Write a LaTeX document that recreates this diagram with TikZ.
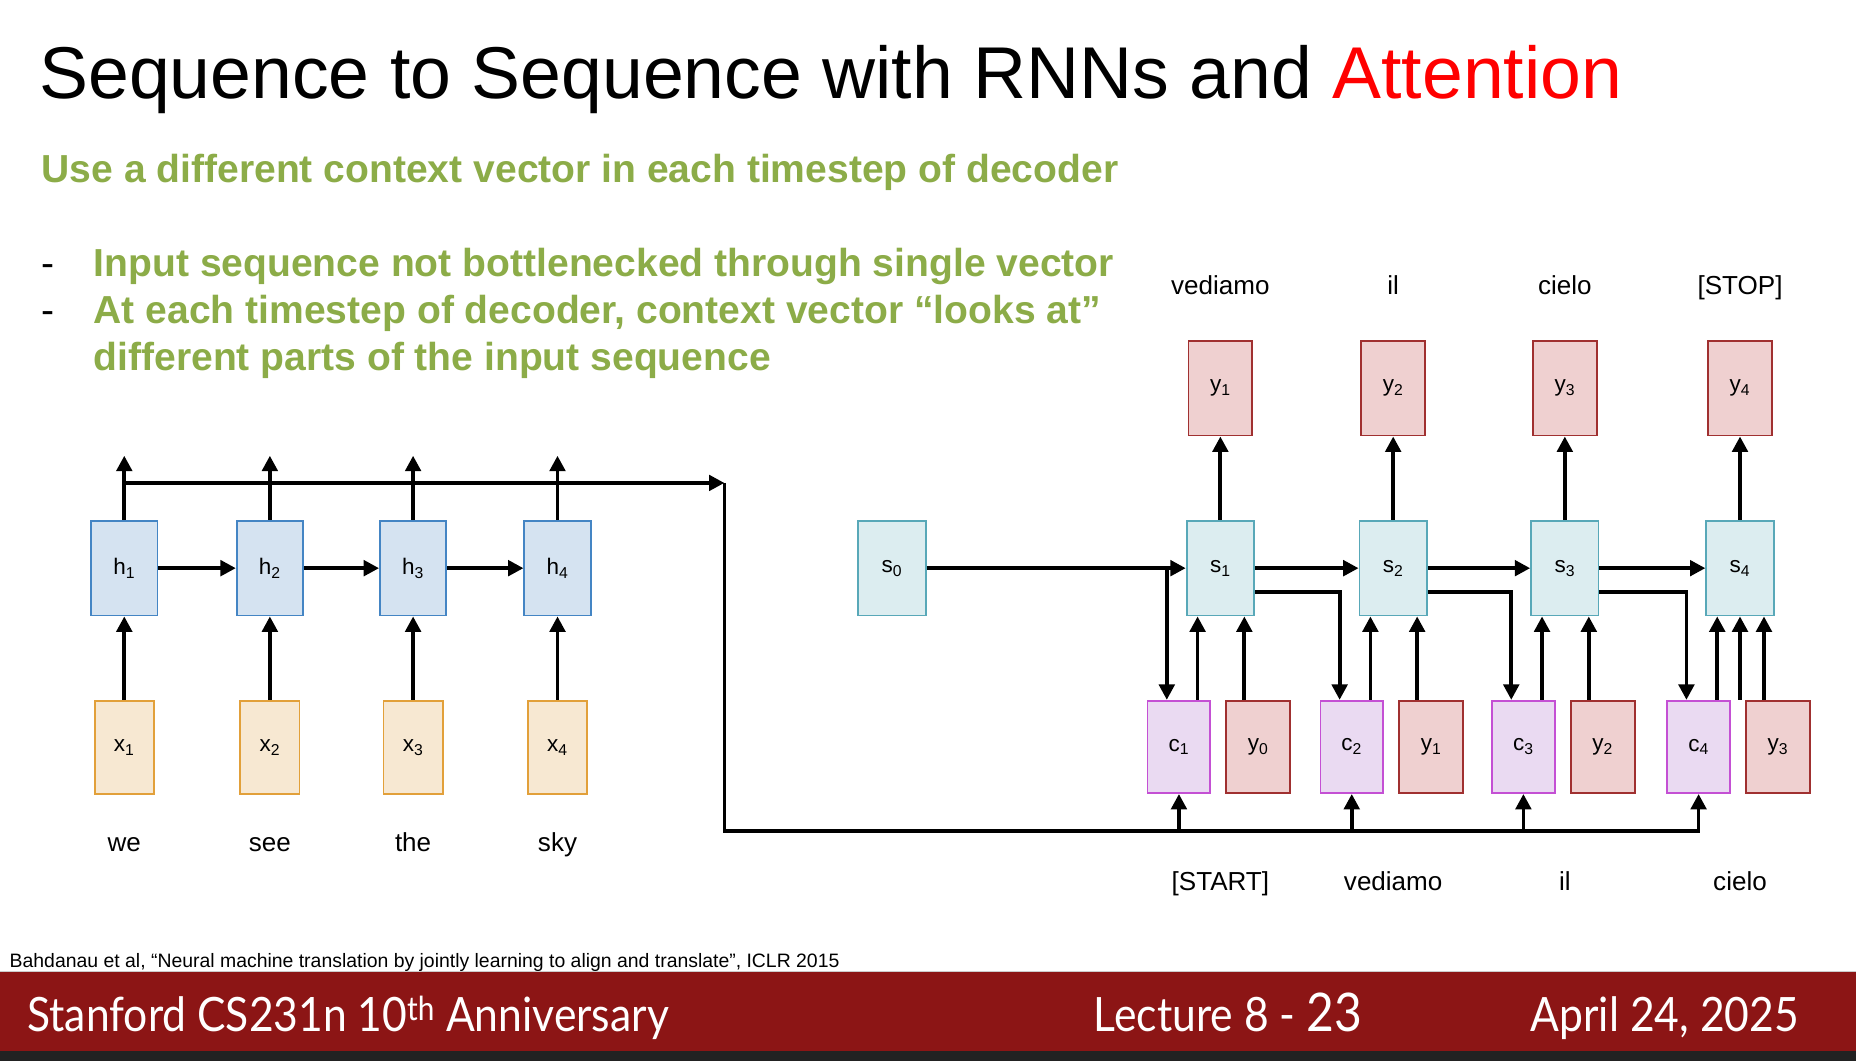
\documentclass[tikz,border=0pt]{standalone}
\usepackage{fontspec}
\setmainfont{Liberation Sans}
\newfontfamily\footfont[FakeStretch = 0.9]{Lato}
\usetikzlibrary{arrows.meta}
\definecolor{hfill}{RGB}{213,227,241}
\definecolor{hline}{RGB}{68,133,196}
\definecolor{xfill}{RGB}{247,232,210}
\definecolor{xline}{RGB}{226,160,58}
\definecolor{sfill}{RGB}{220,237,240}
\definecolor{sline}{RGB}{88,168,184}
\definecolor{yfill}{RGB}{239,208,208}
\definecolor{yline}{RGB}{160,48,48}
\definecolor{cfill}{RGB}{234,218,242}
\definecolor{cline}{RGB}{196,80,212}
\definecolor{olive}{RGB}{140,172,72}
\definecolor{cardinal}{RGB}{140,21,21}
\definecolor{darkbar}{RGB}{34,34,34}
\tikzset{box/.style = {draw, line width = 1.5pt, inner sep = 0,
                       font = \fontsize{19}{22}\selectfont}}
\tikzset{hbox/.style = {box, fill = hfill, draw = hline, minimum width = 56, minimum height = 80}}
\tikzset{xbox/.style = {box, fill = xfill, draw = xline, minimum width = 50, minimum height = 79}}
\tikzset{sbox/.style = {box, fill = sfill, draw = sline, minimum width = 57, minimum height = 80}}
\tikzset{ybox/.style = {box, fill = yfill, draw = yline, minimum width = 54, minimum height = 80}}
\tikzset{cbox/.style = {box, fill = cfill, draw = cline, minimum width = 53, minimum height = 78}}
\tikzset{yibox/.style = {box, fill = yfill, draw = yline, minimum width = 54, minimum height = 78}}
\tikzset{word/.style = {anchor = base, inner sep = 0, font = \fontsize{22}{26}\selectfont}}
\tikzset{point/.style = {anchor = base west, inner sep = 0, text = olive,
                         font = \bfseries\fontsize{33}{39}\selectfont}}
\tikzset{foot/.style = {anchor = base west, inner sep = 0, text = white,
                        font = \footfont\fontsize{40}{44}\selectfont}}
\tikzset{arr/.style = {line width = 3.2pt, -{Triangle[length = 13pt, width = 13pt]}}}

\begin{document}
\begin{tikzpicture}[x = 1pt, y = -1pt]
    \useasboundingbox (0, 0) rectangle (1568, 896);

    % footer band
    \fill [cardinal] (0, 821) rectangle (1568, 888);
    \fill [darkbar] (0, 888) rectangle (1568, 896);
    \draw [gray!40, line width = 1pt] (0, 821) -- (1568, 821);

    \node (title) at (33, 83) [anchor = base west, inner sep = 0, font = \fontsize{62}{70}\selectfont]
        {Sequence to Sequence with RNNs and \textcolor{red}{Attention}};
    \node (sub) at (35, 154.3) [point] {Use a different context vector in each timestep of decoder};
    \node (dash1) at (35, 233.7) [point, text = black, font = \fontsize{33}{39}\selectfont] {-};
    \node (pt1) at (79, 233.7) [point] {Input sequence not bottlenecked through single vector};
    \node (dash2) at (35, 273) [point, text = black, font = \fontsize{33}{39}\selectfont] {-};
    \node (pt2) at (79, 273) [point] {At each timestep of decoder, context vector “looks at”};
    \node (pt3) at (79, 312.6) [point] {different parts of the input sequence};

    \node (ref) at (8, 817) [anchor = base west, inner sep = 0, font = \fontsize{16.4}{18}\selectfont]
        {Bahdanau et al, “Neural machine translation by jointly learning to align and translate”, ICLR 2015};
    \node (course) at (23, 871.5) [foot] {Stanford CS231n 10\textsuperscript{th} Anniversary};
    \node (lecture) at (924, 871.5) [foot] {Lecture 8 - {\fontsize{45}{50}\selectfont 23}};
    \node (date) at (1293, 871.5) [foot] {April 24, 2025};

    % encoder
    \foreach \i/\x/\w in {1/105/we, 2/228/see, 3/349/the, 4/471/sky} {
        \node (h\i) at (\x, 480) [hbox] {h\textsubscript{\i}};
        \node (x\i) at (\x, 631.5) [xbox] {x\textsubscript{\i}};
        \node (word\i) at (\x, 719.5) [word] {\w};
        \coordinate (hout\i) at (\x, 385);
        \draw [arr] (x\i) -- (h\i);
        \draw [arr] (h\i.north) -- (hout\i);
    }
    \draw [arr] (h1) -- (h2);
    \draw [arr] (h2) -- (h3);
    \draw [arr] (h3) -- (h4);

    % decoder
    \node (s0) at (753.5, 480) [sbox] {s\textsubscript{0}};
    \foreach \i/\x/\j/\wa/\wb in {1/1031/0/vediamo/[START], 2/1177/1/il/vediamo,
                                  3/1322/2/cielo/il, 4/1470/3/[STOP]/cielo} {
        \node (s\i) at (\x, 480) [sbox] {s\textsubscript{\i}};
        \node (yo\i) at (\x, 328) [ybox] {y\textsubscript{\i}};
        \node (c\i) at (\x - 35, 631) [cbox] {c\textsubscript{\i}};
        \node (yi\j) at (\x + 32, 631) [yibox] {y\textsubscript{\j}};
        \node (wo\i) at (\x, 249) [word] {\wa};
        \node (wi\i) at (\x, 752.5) [word] {\wb};
        \coordinate (cin\i) at ([xshift = 17pt]c\i.north west);
        \coordinate (cup\i) at ([xshift = 10pt]s\i.south west);
        \coordinate (yup\i) at ([xshift = -9pt]s\i.south east);
        \draw [arr] (s\i) -- (yo\i);
        \draw [arr] (cup\i |- c\i.north) -- (cup\i);
        \draw [arr] (yup\i |- yi\j.north) -- (yup\i);
    }
    \draw [arr] (s0) -- (s1);
    \draw [arr] (cin1 |- s0.east) -- (cin1);
    \foreach \i/\k in {1/2, 2/3, 3/4} {
        \draw [arr] (s\i) -- (s\k);
        \draw [arr] ([yshift = -20pt]s\i.east) -| (cin\k);
    }
    \draw [arr] (s4.south |- c4.north) -- (s4.south);

    % attention bus
    \coordinate (corner) at (612, 408);
    \coordinate (low) at (612, 702);
    \draw [arr] (h1.north |- corner) -- (corner);
    \draw [arr] (corner) -- (low) -| (c4.south);
    \foreach \i in {1, 2, 3}
        \draw [arr] (c\i.south |- low) -- (c\i.south);
\end{tikzpicture}
\end{document}
